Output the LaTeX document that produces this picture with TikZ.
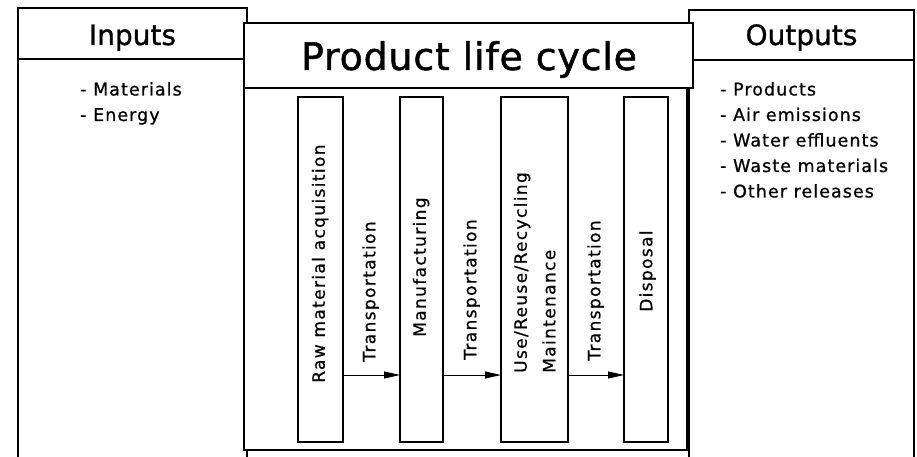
\documentclass[tikz,border=0pt]{standalone}
\usepackage{fontspec}
\usetikzlibrary{arrows.meta}
\newfontfamily\headfont[FakeBold=1]{DejaVu Sans}
\newfontfamily\titlefont[LetterSpace=2,FakeBold=1.2]{DejaVu Sans}
\newfontfamily\listfont[LetterSpace=6,FakeBold=0.8]{DejaVu Sans}
\newfontfamily\stagefont[LetterSpace=8,FakeBold=0.8]{DejaVu Sans}

\begin{document}
\begin{tikzpicture}[x=1pt,y=-1pt,
  frame/.style={draw=black, line width=1.8pt, fill=white},
  stagebox/.style={draw=black, line width=1.4pt, fill=white, minimum height=345pt,
    inner sep=0pt, outer sep=0pt},
  stagetext/.style={rotate=90, anchor=west, inner sep=0pt,
    font=\stagefont\fontsize{17}{20}\selectfont, text height=12.5pt, text depth=4pt},
  headtext/.style={anchor=base, inner sep=0pt, font=\headfont\fontsize{28}{30}\selectfont},
  titletext/.style={anchor=base, inner sep=0pt, font=\titlefont\fontsize{38}{40}\selectfont},
  listtext/.style={anchor=north west, inner sep=0pt, align=left,
    font=\listfont\fontsize{17.5}{25.5}\selectfont},
  flow/.style={line width=1pt, -{Triangle[length=16pt,width=7pt]}}
]
\clip (0,0) rectangle (917,457);
\useasboundingbox (0,0) rectangle (917,457);

% side panels
\draw[frame] (18,8) rectangle (247,459);
\draw[line width=1.8pt] (18,59) -- (247,59);
\draw[frame] (689,10) rectangle (914,459);
\draw[line width=1.8pt] (689,60) -- (914,60);

% central panel: body and title strip
\draw[frame] (244,88) rectangle (687,450);
\draw[frame] (244,23) rectangle (693,88);

% headings
\node[headtext] (inhead) at (132.5,45) {Inputs};
\node[headtext] (outhead) at (801.5,45) {Outputs};
\node[titletext] (title) at (469,70) {Product life cycle};

% lists
\node[listtext] (inlist) at (80,82) {- Materials\\- Energy};
\node[listtext] (outlist) at (720,82) {- Products\\- Air emissions\\- Water effluents\\- Waste materials\\- Other releases};

% life cycle stages
\node[stagebox, minimum width=45pt] (raw) at (320.5,269.5) {};
\node[stagebox, minimum width=43pt] (manuf) at (421.5,269.5) {};
\node[stagebox, minimum width=67pt] (use) at (534.5,269.5) {};
\node[stagebox, minimum width=44pt] (disp) at (646,269.5) {};

\node[stagetext] (rawtxt) at (320.5,383) {Raw material acquisition};
\node[stagetext] (manuftxt) at (421.5,337) {Manufacturing};
\node[stagetext] (usetxt) at (522.5,373) {Use/Reuse/Recycling};
\node[stagetext] (mainttxt) at (551,373) {Maintenance};
\node[stagetext] (disptxt) at (648,312) {Disposal};

\node[stagetext] (tr1) at (371,362) {Transportation};
\node[stagetext] (tr2) at (472,360) {Transportation};
\node[stagetext] (tr3) at (596,361) {Transportation};

% transport links
\coordinate (row) at (0,375);
\draw[flow] (raw.east |- row) -- (manuf.west |- row);
\draw[flow] (manuf.east |- row) -- (use.west |- row);
\draw[flow] (use.east |- row) -- (disp.west |- row);
\end{tikzpicture}
\end{document}
